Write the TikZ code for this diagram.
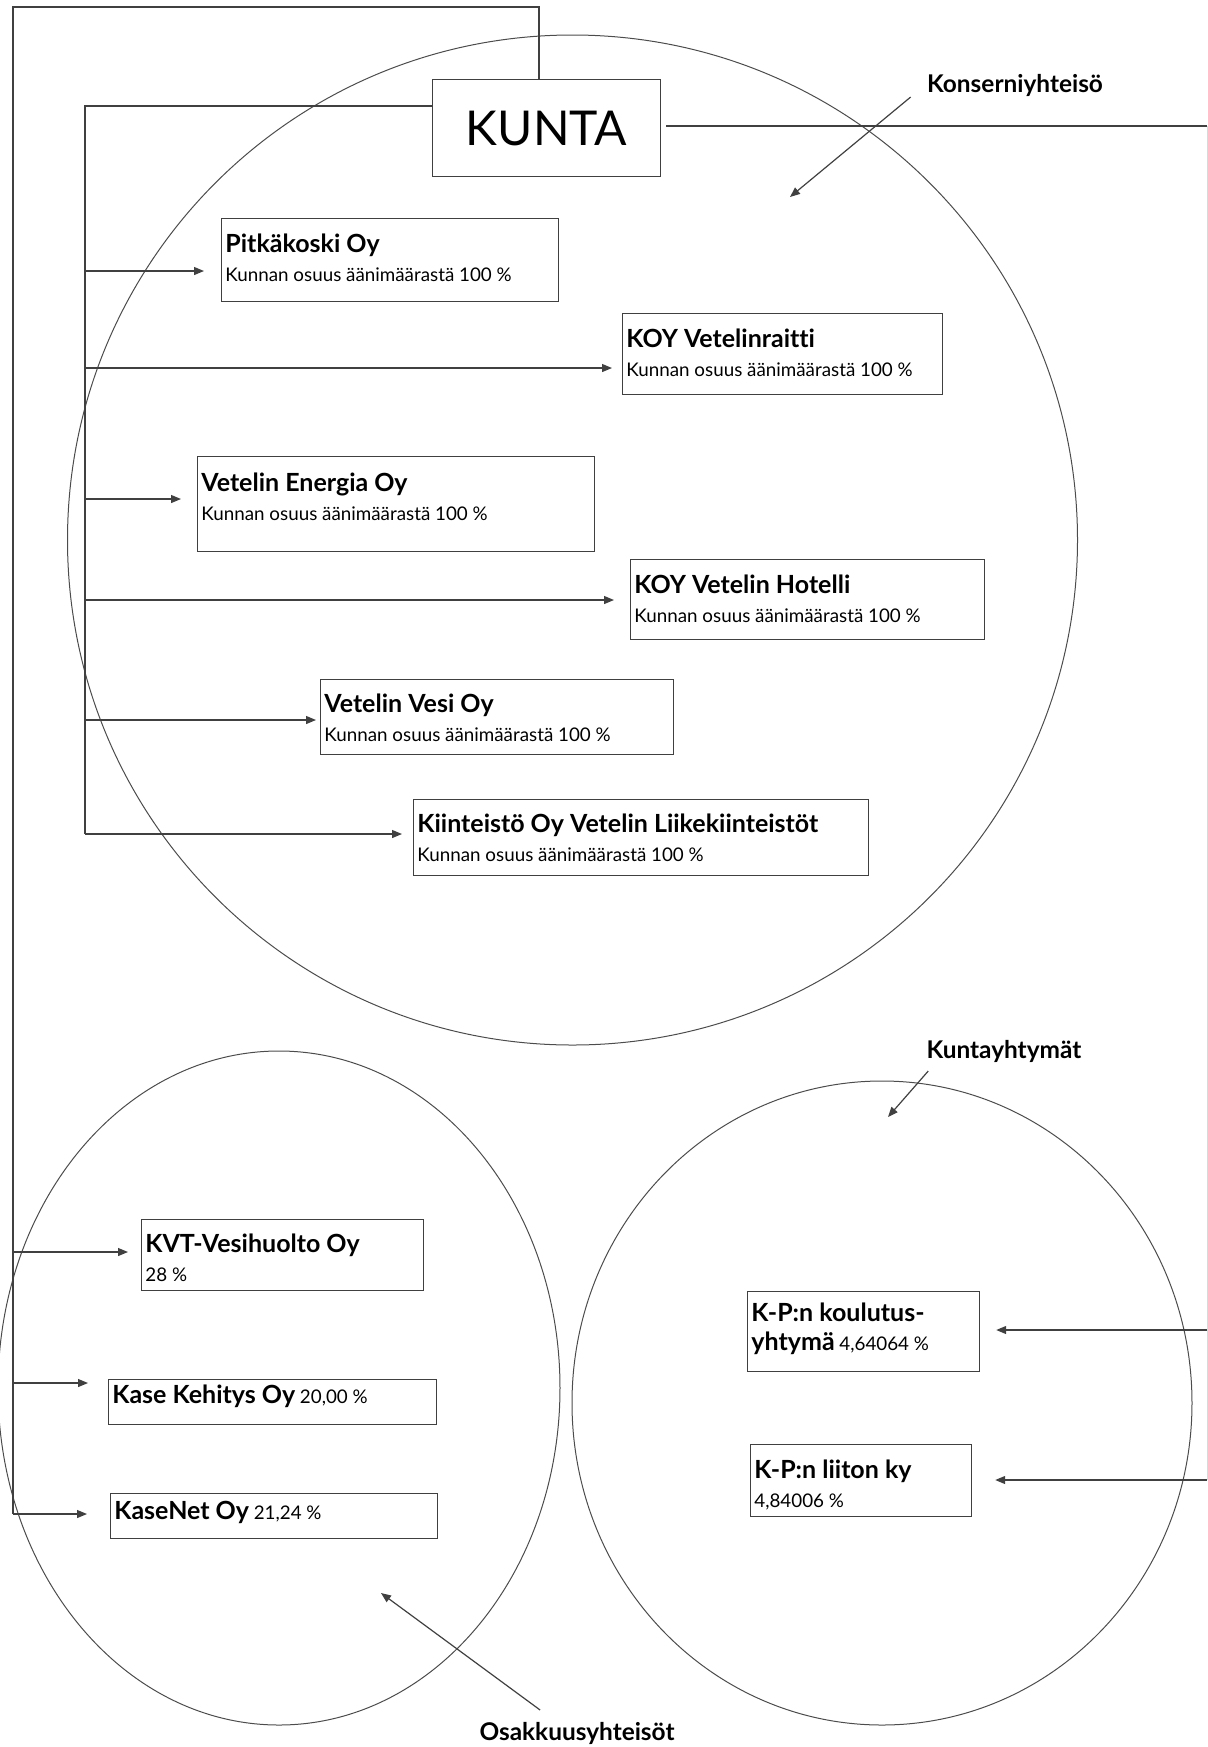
\documentclass[tikz,border=0pt]{standalone}
\usepackage{fontspec}
\setmainfont{Lato}[Ligatures=CommonOff]
\usetikzlibrary{positioning, arrows.meta}

\newcommand{\nimi}{\bfseries\fontsize{12.5}{14.5}\selectfont}

\begin{document}
\begin{tikzpicture}[
    x=0.5pt, y=-0.5pt,
    line/.style  = {draw=black!75, line width=0.6pt},
    arr/.style   = {line, -{Triangle[length=5pt, width=4pt]}},
    ring/.style  = {draw=black!70, line width=0.5pt},
    firm/.style  = {line, anchor=north west, inner sep=0pt},
    info/.style  = {anchor=north west, inner sep=0pt, align=left,
                    font=\fontsize{9.4}{14.5}\selectfont},
    ryhma/.style = {inner sep=0pt, font=\bfseries\fontsize{12.2}{14}\selectfont}
  ]
  \useasboundingbox (0,0) rectangle (1207,1747);

  % the three groups
  \draw[ring] (572.5,540) circle [radius=252.5pt];
  \draw[ring] (279,1388) ellipse [x radius=140.5pt, y radius=168.5pt];
  \draw[ring] (882,1403) ellipse [x radius=155pt, y radius=161pt];

  \node[firm, minimum width=114pt, minimum height=48.5pt,
        font=\fontsize{24}{28}\selectfont] (kunta) at (432,79) {KUNTA};

  % konserniyhteisö
  \node[firm, minimum width=168.5pt, minimum height=41.5pt] (pitka) at (221,218) {};
  \node[info, below right=8pt and 2pt of pitka.north west] (pitka-t)
    {{\nimi Pitkäkoski Oy}\\Kunnan osuus äänimäärastä 100 \%};
  \node[firm, minimum width=160pt, minimum height=40.5pt] (raitti) at (622,313) {};
  \node[info, below right=8pt and 2pt of raitti.north west] (raitti-t)
    {{\nimi KOY Vetelinraitti}\\Kunnan osuus äänimäärastä 100 \%};
  \node[firm, minimum width=198.5pt, minimum height=47.5pt] (energia) at (197,456) {};
  \node[info, below right=8.5pt and 2pt of energia.north west] (energia-t)
    {{\nimi Vetelin Energia Oy}\\Kunnan osuus äänimäärastä 100 \%};
  \node[firm, minimum width=177pt, minimum height=40pt] (hotelli) at (630,559) {};
  \node[info, below right=8pt and 2pt of hotelli.north west] (hotelli-t)
    {{\nimi KOY Vetelin Hotelli}\\Kunnan osuus äänimäärastä 100 \%};
  \node[firm, minimum width=176.5pt, minimum height=37.5pt] (vesi) at (320,679) {};
  \node[info, below right=7.5pt and 2pt of vesi.north west] (vesi-t)
    {{\nimi Vetelin Vesi Oy}\\Kunnan osuus äänimäärastä 100 \%};
  \node[firm, minimum width=227.5pt, minimum height=38pt] (kiinteisto) at (413,799) {};
  \node[info, below right=7.5pt and 2pt of kiinteisto.north west] (kiinteisto-t)
    {{\nimi Kiinteistö Oy Vetelin Liikekiinteistöt}\\Kunnan osuus äänimäärastä 100 \%};

  % osakkuusyhteisöt
  \node[firm, minimum width=141pt, minimum height=35.5pt] (kvt) at (141,1219) {};
  \node[info, below right=7.5pt and 2pt of kvt.north west] (kvt-t)
    {{\nimi KVT-Vesihuolto Oy}\\28 \%};
  \node[firm, minimum width=164pt, minimum height=22.5pt] (kase) at (108,1379) {};
  \node[info, below right=3pt and 2pt of kase.north west] (kase-t)
    {{\nimi Kase Kehitys Oy} 20,00 \%};
  \node[firm, minimum width=163.5pt, minimum height=22.5pt] (kasenet) at (110,1493) {};
  \node[info, below right=4pt and 2pt of kasenet.north west] (kasenet-t)
    {{\nimi KaseNet Oy} 21,24 \%};

  % kuntayhtymät
  \node[firm, minimum width=116pt, minimum height=40pt] (kpkoulu) at (747,1291) {};
  \node[info, below right=6pt and 2pt of kpkoulu.north west] (kpkoulu-t)
    {{\nimi K-P:n koulutus-}\\{\nimi yhtymä} 4,64064 \%};
  \node[firm, minimum width=110.5pt, minimum height=36pt] (kpliitto) at (750,1444) {};
  \node[info, below right=8pt and 2pt of kpliitto.north west] (kpliitto-t)
    {{\nimi K-P:n liiton ky}\\4,84006 \%};

  % lines from KUNTA
  \coordinate (ylin) at (539,7);
  \coordinate (vasen) at (13,7);
  \coordinate (sisa) at (85,106);
  \coordinate (oikea) at (1207.2,126);
  \draw[line] (kunta.north -| ylin) -- (ylin) -- (vasen) -- (vasen |- 0,1514);
  \draw[line] (kunta.west |- sisa) -- (sisa) -- (sisa |- 0,834);
  \draw[line] ([xshift=2.5pt]kunta.east |- oikea) -- (oikea);
  \draw[line, draw=black!15] (oikea) -- (oikea |- 0,1480);

  \draw[arr, shorten >=8.5pt] (sisa |- 0,271) -- (pitka.west |- 0,271);
  \draw[arr, shorten >=5pt] (sisa |- 0,368) -- (raitti.west |- 0,368);
  \draw[arr, shorten >=8pt] (sisa |- 0,499) -- (energia.west |- 0,499);
  \draw[arr, shorten >=8pt] (sisa |- 0,600) -- (hotelli.west |- 0,600);
  \draw[arr, shorten >=2pt] (sisa |- 0,720) -- (vesi.west |- 0,720);
  \draw[arr, shorten >=5.5pt] (sisa |- 0,834) -- (kiinteisto.west |- 0,834);

  \draw[arr, shorten >=6.5pt] (vasen |- 0,1252) -- (kvt.west |- 0,1252);
  \draw[arr, shorten >=10pt] (vasen |- 0,1383) -- (kase.west |- 0,1383);
  \draw[arr, shorten >=11.5pt] (vasen |- 0,1514) -- (kasenet.west |- 0,1514);

  \draw[arr, shorten >=8pt] (oikea |- 0,1330) -- (kpkoulu.east |- 0,1330);
  \draw[arr, shorten >=11.5pt] (oikea |- 0,1480) -- (kpliitto.east |- 0,1480);

  % group labels
  \node[ryhma] (konserni) at (1015,85) {Konserniyhteisö};
  \node[ryhma] (kuntayht) at (1004,1051) {Kuntayhtymät};
  \node[ryhma] (osakkuus) at (577,1733) {Osakkuusyhteisöt};
  \coordinate (konserni-k) at (790,197);
  \coordinate (kuntayht-k) at (888,1117);
  \coordinate (osakkuus-k) at (381,1593);
  \draw[arr] ([shift={(-16,12)}]konserni.west) -- (konserni-k);
  \draw[arr] ([shift={(2,20)}]kuntayht.west) -- (kuntayht-k);
  \draw[arr] ([shift={(61,-23)}]osakkuus.west) -- (osakkuus-k);
\end{tikzpicture}
\end{document}
